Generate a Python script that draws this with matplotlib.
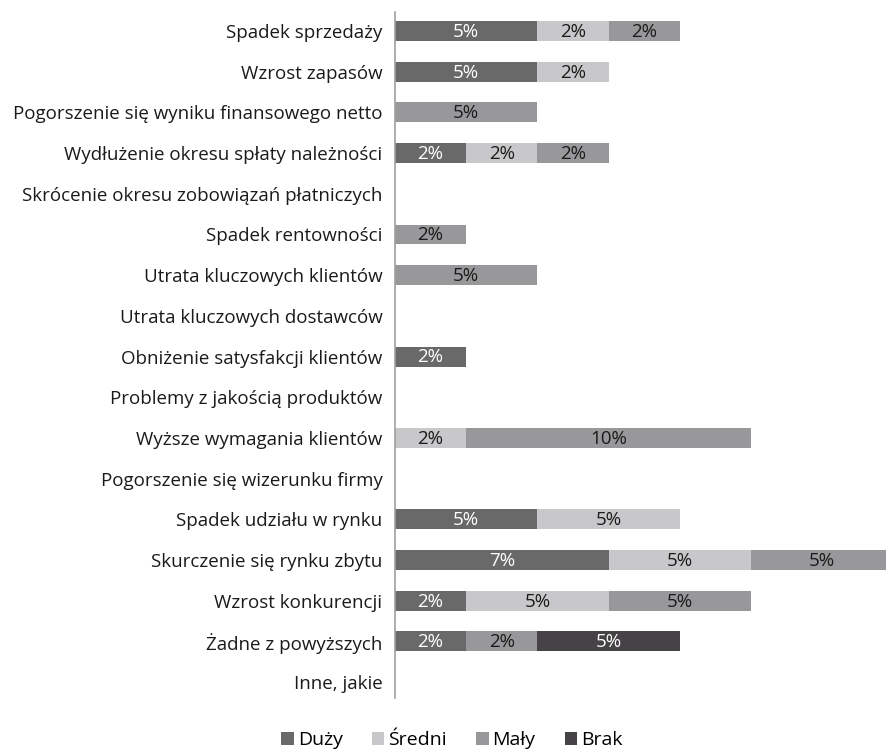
"""Czynniki wpływu — poziomy wykres skumulowany (Duży / Średni / Mały / Brak)."""
import matplotlib
matplotlib.use("Agg")
import matplotlib.pyplot as plt
from matplotlib.patches import Patch

plt.rcParams["font.family"] = ["Open Sans", "DejaVu Sans"]

CATEGORIES = [
    "Spadek sprzedaży",
    "Wzrost zapasów",
    "Pogorszenie się wyniku finansowego netto",
    "Wydłużenie okresu spłaty należności",
    "Skrócenie okresu zobowiązań płatniczych",
    "Spadek rentowności",
    "Utrata kluczowych klientów",
    "Utrata kluczowych dostawców",
    "Obniżenie satysfakcji klientów",
    "Problemy z jakością produktów",
    "Wyższe wymagania klientów",
    "Pogorszenie się wizerunku firmy",
    "Spadek udziału w rynku",
    "Skurczenie się rynku zbytu",
    "Wzrost konkurencji",
    "Żadne z powyższych",
    "Inne, jakie",
]
SERIES = ["Duży", "Średni", "Mały", "Brak"]

# odsetki w % (n=42, etykiety zaokrąglone)
DUZY   = [4.76, 4.76, 0, 2.38, 0, 0, 0, 0, 2.38, 0, 0, 0, 4.76, 7.14, 2.38, 2.38, 0]
SREDNI = [2.38, 2.38, 0, 2.38, 0, 0, 0, 0, 0, 0, 2.38, 0, 4.76, 4.76, 4.76, 0, 0]
MALY   = [2.38, 0, 4.76, 2.38, 0, 2.38, 4.76, 0, 0, 0, 9.52, 0, 0, 4.76, 4.76, 2.38, 0]
BRAK   = [0, 0, 0, 0, 0, 0, 0, 0, 0, 0, 0, 0, 0, 0, 0, 4.76, 0]

COLORS = ["#696969", "#c8c8ca", "#98989b", "#454345"]
TEXT_COLORS = ["white", "#1a1a1a", "#1a1a1a", "white"]

fig = plt.figure(figsize=(8.87, 7.53), dpi=100)
ax = fig.add_axes([395 / 887, 1 - 698 / 753, 1 - 395 / 887, (698 - 12) / 753])

ypos = list(range(len(CATEGORIES)))
left = [0.0] * len(CATEGORIES)
for vals, color, tcolor in zip([DUZY, SREDNI, MALY, BRAK], COLORS, TEXT_COLORS):
    ax.barh(ypos, vals, left=left, height=0.49, color=color, edgecolor="none")
    for y, v, l in zip(ypos, vals, left):
        if v > 0:
            ax.text(l + v / 2, y + 0.02, f"{v:.0f}%", ha="center", va="center",
                    color=tcolor, fontsize=13.5)
    left = [l + v for l, v in zip(left, vals)]

ax.set_xlim(0, 16.45)
ax.set_ylim(16.39, -0.467)
ax.set_yticks(ypos)
ax.set_yticklabels(CATEGORIES, fontsize=13.5, color="#1a1a1a")
ax.tick_params(axis="y", length=0, pad=9)
ax.set_xticks([])
for s in ["top", "right", "bottom"]:
    ax.spines[s].set_visible(False)
ax.spines["left"].set_color("#a0a0a0")
ax.spines["left"].set_linewidth(1.2)

handles = [Patch(facecolor=c, edgecolor="none") for c in COLORS]
fig.legend(handles, SERIES, loc="center", bbox_to_anchor=(452 / 887, 1 - 740 / 753),
           ncol=4, frameon=False, fontsize=14, handlelength=0.65, handleheight=0.65,
           handletextpad=0.2, columnspacing=1.5)

fig.savefig("out.png", dpi=100)
